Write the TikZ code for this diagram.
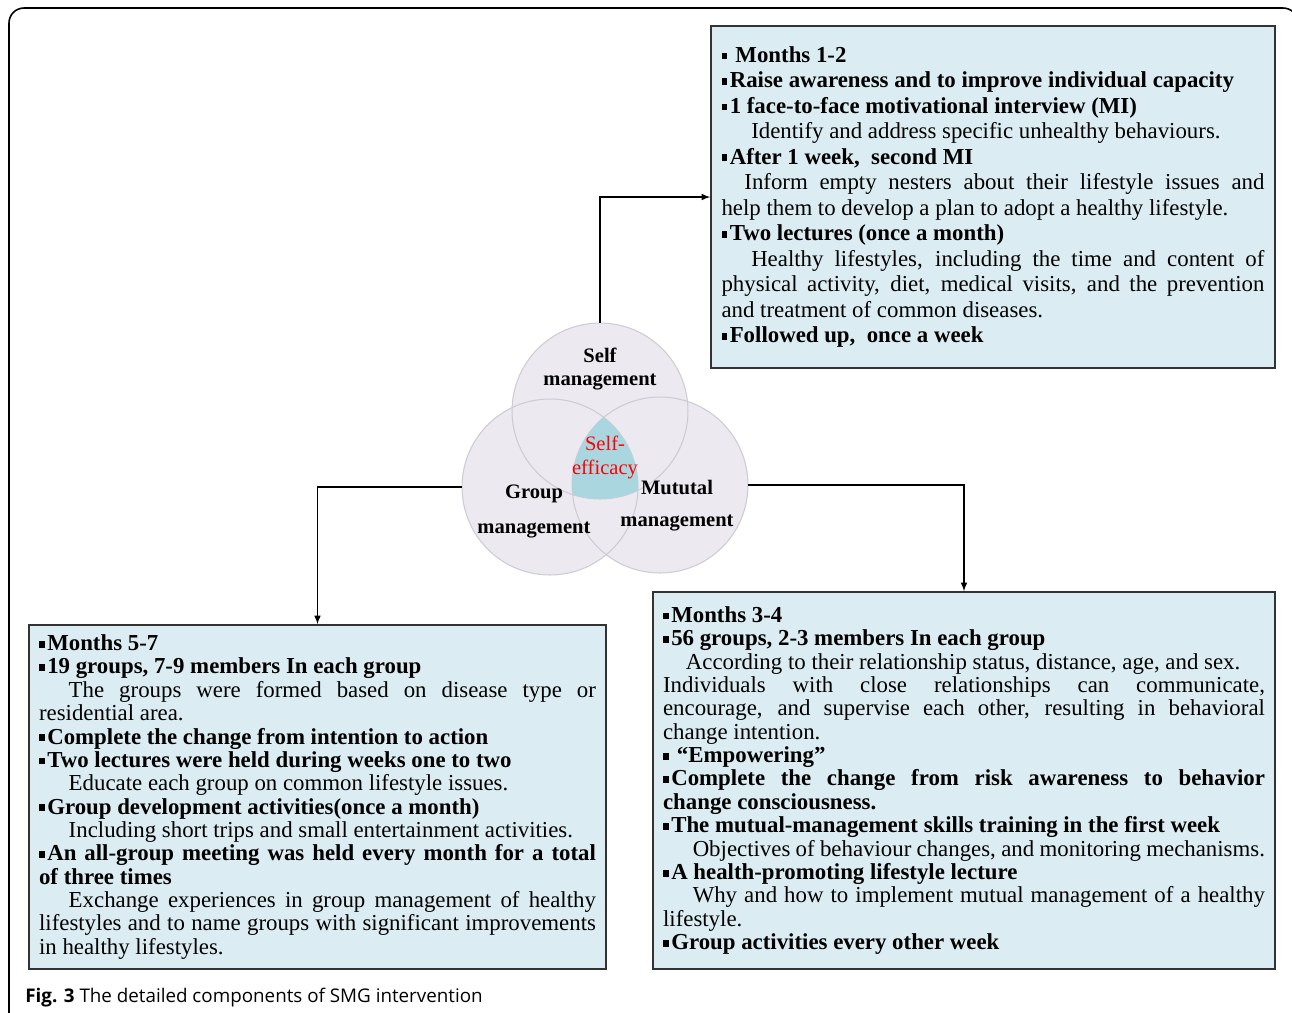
\documentclass[tikz,border=0pt]{standalone}
\usepackage{fontspec}
\setmainfont{Liberation Serif}
\newfontfamily\capfont{Open Sans}
\usetikzlibrary{positioning}

\definecolor{boxblue}{RGB}{219,237,243}
\definecolor{vennfill}{RGB}{236,233,240}
\definecolor{vennline}{RGB}{205,204,212}
\definecolor{effblue}{RGB}{170,214,224}

\newcommand{\sqb}{\rule[0.28ex]{0.24em}{0.3em}\hspace{0.12em}}
\newcommand{\bhead}[1]{{\bfseries\sqb #1}\par}

\tikzset{
  detail/.style={draw=black!80, fill=boxblue, line width=0.9pt, inner xsep=0.2cm, inner ysep=0pt,
    align=justify, font=\fontsize{13}{13.3}\selectfont},
  venn/.style={circle, fill=vennfill, minimum size=3.52cm, inner sep=0pt},
  vennlabel/.style={font=\fontsize{11.7}{13.3}\selectfont\bfseries, align=center},
  link/.style={->, >=latex, line width=0.7pt}
}

\begin{document}
\begin{tikzpicture}[x=0.02cm, y=-0.02cm]
    \useasboundingbox (0,0) rectangle (1292,1012);

    % outer frame
    \begin{scope}
        \clip (0,0) rectangle (1292,1012);
        \draw[line width=0.9pt, rounded corners=0.3cm] (9,8) rectangle (1298,1080);
    \end{scope}

    % Venn circles
    \node[venn] (selfc) at (600,411) {};
    \node[venn] (groupc) at (550,487) {};
    \node[venn] (mutualc) at (660,485) {};
    \foreach \c in {selfc, groupc, mutualc}
        \draw[vennline, line width=0.6pt] (\c.center) circle (1.76cm);

    % self-efficacy in the middle
    \begin{scope}
        \clip (selfc.center) circle (1.76cm);
        \clip (groupc.center) circle (1.76cm);
        \fill[effblue] (mutualc.center) circle (1.76cm);
    \end{scope}

    \node[vennlabel] (selflab) at (600,369) {Self\\management};
    \node[vennlabel] (grouplab) at (534,511.5) {Group\\[0.22cm]management};
    \node[vennlabel] (mutuallab) at (677,506) {Mututal\\[0.17cm]management};
    \node[align=center, red, font=\fontsize{11.7}{13.3}\selectfont] (efflab) at (605,457.5) {Self-\\efficacy};

    % Months 1-2
    \node[detail, text width=10.86cm, minimum width=11.28cm, minimum height=6.84cm] (selfbox) at (993,197) {
        \fontsize{13}{14.5}\selectfont
        \bhead{\ Months 1-2}
        \bhead{Raise awareness and to improve individual capacity}
        \bhead{1 face-to-face motivational interview (MI)}
        \hspace*{1.3em}Identify and address specific unhealthy behaviours.\par
        \bhead{After 1 week,\ \ second MI}
        \hspace*{1em}Inform empty nesters about their lifestyle issues and\linebreak
        help them to develop a plan to adopt a healthy lifestyle.\par
        \bhead{Two lectures (once a month)}
        \hspace*{1.3em}Healthy lifestyles, including the time and content of\linebreak
        physical activity, diet, medical visits, and the prevention\linebreak
        and treatment of common diseases.\par
        \bhead{Followed up,\ \ once a week}
    };

    % Months 5-7
    \node[detail, text width=11.14cm, minimum width=11.54cm, minimum height=6.88cm] (groupbox) at (317.5,797) {
        \bhead{Months 5-7}
        \bhead{19 groups, 7-9 members In each group}
        \hspace*{1.3em}The groups were formed based on disease type or\linebreak
        residential area.\par
        \bhead{Complete the change from intention to action}
        \bhead{Two lectures were held during weeks one to two}
        \hspace*{1.3em}Educate each group on common lifestyle issues.\par
        \bhead{Group development activities(once a month)}
        \hspace*{1.3em}Including short trips and small entertainment activities.\par
        {\bfseries\sqb An all-group meeting was held every month for a total\linebreak
        of three times}\par
        \hspace*{1.3em}Exchange experiences in group management of healthy\linebreak
        lifestyles and to name groups with significant improvements\linebreak
        in healthy lifestyles.\par
    };

    % Months 3-4
    \node[detail, text width=12.04cm, minimum width=12.44cm, minimum height=7.54cm] (mutualbox) at (964,780.5) {
        \bhead{Months 3-4}
        \bhead{56 groups, 2-3 members In each group}
        \hspace*{1em}According to their relationship status, distance, age, and sex.\\
        Individuals with close relationships can communicate,\linebreak
        encourage, and supervise each other, resulting in behavioral\linebreak
        change intention.\par
        \bhead{\ ``Empowering''}
        {\bfseries\sqb Complete the change from risk awareness to behavior\linebreak
        change consciousness.}\par
        \bhead{The mutual-management skills training in the first week}
        \hspace*{1.3em}Objectives of behaviour changes, and monitoring mechanisms.\par
        \bhead{A health-promoting lifestyle lecture}
        \hspace*{1.3em}Why and how to implement mutual management of a healthy\linebreak
        lifestyle.\par
        \bhead{Group activities every other week}
    };

    % connectors
    \draw[link] (selfc.north) |- (selfbox.west);
    \draw[link] (groupc.west) -| (groupbox.north);
    \draw[link] (mutualc.east) -| (mutualbox.north);

    \node[anchor=base west, inner sep=0pt, font=\capfont\fontsize{10.7}{13}\selectfont] (caption) at (25,1002)
        {\textbf{Fig. 3} The detailed components of SMG intervention};
\end{tikzpicture}
\end{document}
